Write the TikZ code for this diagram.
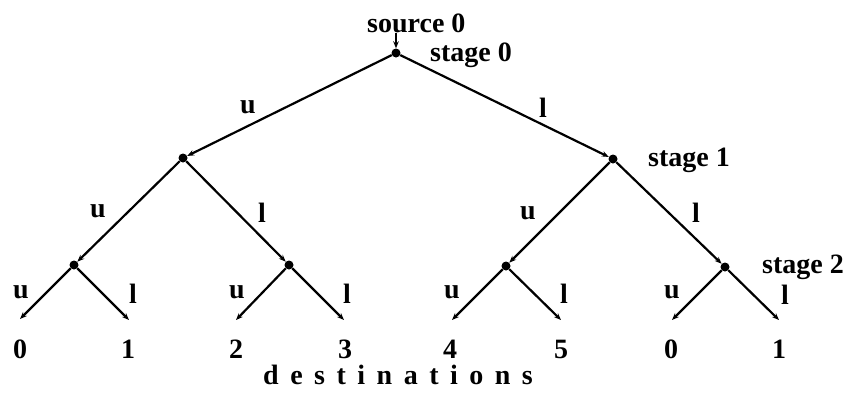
\documentclass[tikz,border=0pt]{standalone}
\usepackage{fontspec}
\setmainfont{Liberation Serif}
\usetikzlibrary{arrows.meta}
\begin{document}
\begin{tikzpicture}[x=1pt,y=-1pt,
  dot/.style={circle,fill=black,inner sep=0pt,minimum size=9pt},
  edge/.style={line width=2.2pt,-{Stealth[length=7pt,width=5.5pt]}},
  lbl/.style={font=\fontsize{28}{30}\selectfont\bfseries,inner sep=0pt,anchor=base},
  lblw/.style={lbl,anchor=base west}]
\useasboundingbox (0,0) rectangle (849,397);
% nodes
\node[dot] (r) at (396,53) {};
\node[dot] (a) at (183,158) {};
\node[dot] (b) at (613,159) {};
\node[dot] (a1) at (74,265) {};
\node[dot] (a2) at (289,265) {};
\node[dot] (b1) at (506,266) {};
\node[dot] (b2) at (725,267) {};
\coordinate (l0) at (20,319);
\coordinate (l1) at (129,320);
\coordinate (l2) at (236,320);
\coordinate (l3) at (344,320);
\coordinate (l4) at (452,320);
\coordinate (l5) at (561,320);
\coordinate (l6) at (672,320);
\coordinate (l7) at (779,320);
\coordinate (s) at (396,33);
% texts
\node[lblw] (src) at (367,32) {source 0};
\node[lblw] (st0) at (430,61) {stage 0};
\node[lblw] (st1) at (648,166) {stage 1};
\node[lblw] (st2) at (762,273) {stage 2};
% edges
\draw[edge] (s) -- (r);
\draw[edge] (r) -- (a);
\draw[edge] (r) -- (b);
\draw[edge] (a) -- (a1);
\draw[edge] (a) -- (a2);
\draw[edge] (b) -- (b1);
\draw[edge] (b) -- (b2);
\draw[edge] (a1) -- (l0);
\draw[edge] (a1) -- (l1);
\draw[edge] (a2) -- (l2);
\draw[edge] (a2) -- (l3);
\draw[edge] (b1) -- (l4);
\draw[edge] (b1) -- (l5);
\draw[edge] (b2) -- (l6);
\draw[edge] (b2) -- (l7);
% edge labels
\node[lbl] (er1) at (248,113) {u};
\node[lbl] (er2) at (543,117) {l};
\node[lbl] (ea1) at (98,217) {u};
\node[lbl] (ea2) at (262,222) {l};
\node[lbl] (eb1) at (528,219) {u};
\node[lbl] (eb2) at (696,222) {l};
% leaf edge labels
\node[lbl] (u0) at (21,298) {u};
\node[lbl] (u1) at (133,303) {l};
\node[lbl] (u2) at (237,298) {u};
\node[lbl] (u3) at (347,303) {l};
\node[lbl] (u4) at (452,298) {u};
\node[lbl] (u5) at (564,303) {l};
\node[lbl] (u6) at (672,298) {u};
\node[lbl] (u7) at (785,304) {l};
% destinations
\node[lbl] (d0) at (20,358) {0};
\node[lbl] (d1) at (128,358) {1};
\node[lbl] (d2) at (236,358) {2};
\node[lbl] (d3) at (345,358) {3};
\node[lbl] (d4) at (450,358) {4};
\node[lbl] (d5) at (561,358) {5};
\node[lbl] (d6) at (671,358) {0};
\node[lbl] (d7) at (779,358) {1};
\node[lblw] (dest) at (263,384) {d\kern11.5pt e\kern11.5pt s\kern11.5pt t\kern11.5pt i\kern11.5pt n\kern11.5pt a\kern11.5pt t\kern11.5pt i\kern11.5pt o\kern11.5pt n\kern11.5pt s};
\end{tikzpicture}
\end{document}
